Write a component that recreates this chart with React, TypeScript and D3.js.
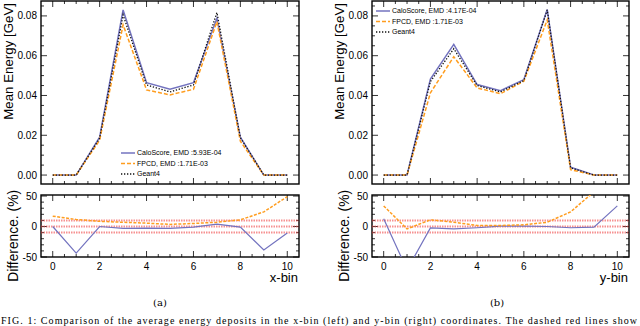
import { useEffect, useRef } from "react";
import * as d3 from "d3";

const bins = [0, 1, 2, 3, 4, 5, 6, 7, 8, 9, 10];

// (a) x-bin
const xGeant4 = [0, 0, 0.0185, 0.0805, 0.0453, 0.0418, 0.0453, 0.0817, 0.0188, 0, 0];
const xCaloScore = [0, 0, 0.019, 0.083, 0.0464, 0.0431, 0.0464, 0.0788, 0.019, 0, 0];
const xFPCD = [0, 0, 0.0175, 0.0755, 0.0428, 0.0403, 0.0431, 0.0771, 0.017, 0, 0];
const xDiffCalo = [0, -43.5, 0, -3, -2.5, -3, -1, 4, -1, -38.5, -10.5];
const xDiffFPCD = [17, 11.5, 8.5, 7, 5.5, 3.5, 5, 7, 11, 24, 49];

// (b) y-bin
const yGeant4 = [0, 0, 0.047, 0.0635, 0.045, 0.0418, 0.0475, 0.083, 0.0036, 0, 0];
const yCaloScore = [0, 0, 0.0483, 0.0657, 0.0455, 0.0424, 0.048, 0.0832, 0.0039, 0, 0];
const yFPCD = [0, 0, 0.0413, 0.0595, 0.0438, 0.0409, 0.0472, 0.078, 0.0027, 0, 0];
const yDiffCalo = [12.8, -71, -2.2, -3.9, -2, 0.5, 0.5, 0, -2, -1, 33.8];
const yDiffFPCD = [33.8, -4, 11, 7, 1.7, 1.7, 2.8, 7, 24, 57, 120];

const legendX = ["CaloScore, EMD :5.93E-04", "FPCD, EMD :1.71E-03", "Geant4"];
const legendY = ["CaloScore, EMD :4.17E-04", "FPCD, EMD :1.71E-03", "Geant4"];

const yTicksTop = [0, 0.02, 0.04, 0.06, 0.08];
const yTicksDiff = [-50, 0, 50];
const xTicks = [0, 2, 4, 6, 8, 10];
const bandLines = [-10, 0, 10];

const caption =
  "FIG. 1: Comparison of the average energy deposits in the x-bin (left) and y-bin (right) coordinates. The dashed red lines show";

const PURPLE = "#7373bf";
const ORANGE = "#ff9d1f";
const FONT = "'Liberation Sans', Arial, Helvetica, sans-serif";

export default function App() {
  const svgRef = useRef<SVGSVGElement>(null);

  useEffect(() => {
    const svg = d3.select(svgRef.current);
    svg.selectAll("*").remove();

    const panels = [
      { id: "a", x0: 41, x1: 299, geant: xGeant4, calo: xCaloScore, fpcd: xFPCD,
        dCalo: xDiffCalo, dFpcd: xDiffFPCD, legend: legendX, legX: 121, legY: 153,
        xlabel: "x-bin", tag: "(a)", tagX: 160, ylabTop: 12.5, ylabBot: 17.5 },
      { id: "b", x0: 372, x1: 629, geant: yGeant4, calo: yCaloScore, fpcd: yFPCD,
        dCalo: yDiffCalo, dFpcd: yDiffFPCD, legend: legendY, legX: 376, legY: 11,
        xlabel: "y-bin", tag: "(b)", tagX: 497, ylabTop: 344, ylabBot: 348.5 },
    ];

    const defs = svg.append("defs");

    panels.forEach((p) => {
      const x = d3.scaleLinear().domain([-0.5, 10.5]).range([p.x0, p.x1]);
      const yTop = d3.scaleLinear().domain([-0.0045, 0.0875]).range([184, 1]);
      const yBot = d3.scaleLinear().domain([-50, 51.7]).range([257, 195]);

      const g = svg.append("g");

      // frame, inward ticks on all sides, y tick labels
      const drawTicks = (
        y: d3.ScaleLinear<number, number>,
        yMajor: number[],
        yMinor: number[]
      ) => {
        const [yb, yt] = y.range();
        const xMinor = d3.range(0, 10.01, 0.5);
        xMinor.forEach((v) => {
          const len = v % 2 === 0 ? 6 : 3;
          g.append("line").attr("x1", x(v)).attr("x2", x(v)).attr("y1", yb).attr("y2", yb - len)
            .attr("stroke", "#000").attr("stroke-width", 0.8);
          g.append("line").attr("x1", x(v)).attr("x2", x(v)).attr("y1", yt).attr("y2", yt + len)
            .attr("stroke", "#000").attr("stroke-width", 0.8);
        });
        yMinor.forEach((v) => {
          const len = yMajor.includes(v) ? 6 : 3;
          g.append("line").attr("x1", p.x0).attr("x2", p.x0 + len).attr("y1", y(v)).attr("y2", y(v))
            .attr("stroke", "#000").attr("stroke-width", 0.8);
          g.append("line").attr("x1", p.x1).attr("x2", p.x1 - len).attr("y1", y(v)).attr("y2", y(v))
            .attr("stroke", "#000").attr("stroke-width", 0.8);
        });
        g.append("rect").attr("x", p.x0).attr("y", yt).attr("width", p.x1 - p.x0).attr("height", yb - yt)
          .attr("fill", "none").attr("stroke", "#000").attr("stroke-width", 1.4);
        yMajor.forEach((v) => {
          g.append("text").attr("x", p.x0 - 4).attr("y", y(v)).attr("dy", "0.35em")
            .attr("text-anchor", "end").attr("font-size", 10).attr("font-family", FONT)
            .text(y === yTop ? d3.format(".2f")(v) : String(v));
        });
      };

      drawTicks(yTop, yTicksTop, d3.range(0, 0.0851, 0.005).map((v) => +v.toFixed(3)));
      drawTicks(yBot, yTicksDiff, d3.range(-50, 50.1, 10));

      xTicks.forEach((v) => {
        g.append("text").attr("x", x(v)).attr("y", 269.5).attr("text-anchor", "middle")
          .attr("font-size", 10).attr("font-family", FONT).text(v);
      });

      // top panel lines
      const lineTop = d3.line<number>().x((_, i) => x(bins[i])).y((d) => yTop(d));
      g.append("path").attr("d", lineTop(p.calo)).attr("fill", "none")
        .attr("stroke", PURPLE).attr("stroke-width", 1.5);
      g.append("path").attr("d", lineTop(p.fpcd)).attr("fill", "none")
        .attr("stroke", ORANGE).attr("stroke-width", 1.5).attr("stroke-dasharray", "4,2");
      g.append("path").attr("d", lineTop(p.geant)).attr("fill", "none")
        .attr("stroke", "#111").attr("stroke-width", 1.3).attr("stroke-dasharray", "1.3,1.7");

      // legend
      const styles = [
        { c: PURPLE, d: null, w: 1.5 },
        { c: ORANGE, d: "4,2", w: 1.5 },
        { c: "#111", d: "1.3,1.7", w: 1.3 },
      ];
      p.legend.forEach((t, i) => {
        const ly = p.legY + i * 10.5;
        const ln = g.append("line").attr("x1", p.legX).attr("x2", p.legX + 14)
          .attr("y1", ly).attr("y2", ly).attr("stroke", styles[i].c).attr("stroke-width", styles[i].w);
        if (styles[i].d) ln.attr("stroke-dasharray", styles[i].d);
        g.append("text").attr("x", p.legX + 16).attr("y", ly).attr("dy", "0.35em")
          .attr("font-size", 7).attr("font-family", FONT).text(t);
      });

      // difference panel
      const clipId = `clip-${p.id}`;
      defs.append("clipPath").attr("id", clipId).append("rect")
        .attr("x", p.x0).attr("y", 195).attr("width", p.x1 - p.x0).attr("height", 62);
      const gc = g.append("g").attr("clip-path", `url(#${clipId})`);
      bandLines.forEach((v) => {
        gc.append("line").attr("x1", p.x0).attr("x2", p.x1).attr("y1", yBot(v)).attr("y2", yBot(v))
          .attr("stroke", "#f04848").attr("stroke-opacity", 0.6).attr("stroke-width", 2)
          .attr("stroke-dasharray", "1.5,1");
      });
      const lineBot = d3.line<number>().x((_, i) => x(bins[i])).y((d) => yBot(d));
      gc.append("path").attr("d", lineBot(p.dCalo)).attr("fill", "none")
        .attr("stroke", PURPLE).attr("stroke-width", 1.2);
      gc.append("path").attr("d", lineBot(p.dFpcd)).attr("fill", "none")
        .attr("stroke", ORANGE).attr("stroke-width", 1.5).attr("stroke-dasharray", "3,1.5");

      // axis labels
      g.append("text").attr("transform", `translate(${p.ylabTop},3) rotate(-90)`)
        .attr("text-anchor", "end").attr("font-size", 13.3)
        .attr("font-family", FONT).text("Mean Energy [GeV]");
      g.append("text").attr("transform", `translate(${p.ylabBot},190) rotate(-90)`)
        .attr("text-anchor", "end").attr("font-size", 13.8)
        .attr("font-family", FONT).text("Difference. (%)");
      g.append("text").attr("x", p.x1 - 1).attr("y", 282).attr("text-anchor", "end")
        .attr("font-size", 13).attr("font-family", FONT).text(p.xlabel);
      g.append("text").attr("x", p.tagX).attr("y", 306).attr("text-anchor", "middle")
        .attr("font-size", 10).attr("font-family", "'DejaVu Serif', 'Liberation Serif', serif")
        .text(p.tag);
    });

    svg.append("text").attr("x", 1).attr("y", 323.5).attr("font-size", 10)
      .attr("font-family", "'Liberation Serif', serif")
      .attr("textLength", 636).attr("lengthAdjust", "spacing")
      .text(caption);
  }, []);

  return (
    <svg
      ref={svgRef}
      width={640}
      height={326}
      viewBox="0 0 640 326"
      style={{ position: "absolute", left: 0, top: 0, background: "#fff" }}
    />
  );
}
